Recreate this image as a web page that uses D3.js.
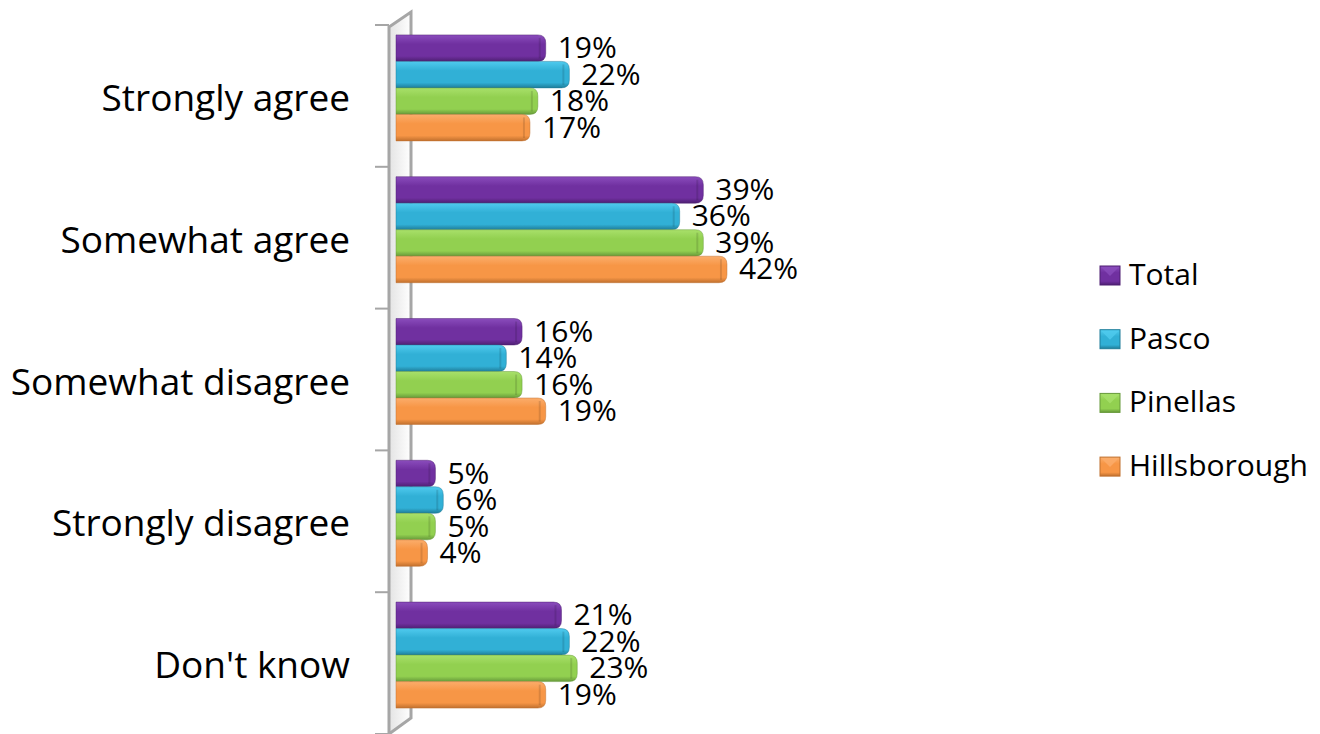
<!DOCTYPE html>
<html>
<head>
<meta charset="utf-8">
<script src="https://cdn.jsdelivr.net/npm/d3@7"></script>
<style>
  body { margin: 0; background: #fff; }
  svg { display: block; font-family: "Open Sans", sans-serif; }
</style>
</head>
<body>
<svg id="svg" width="1320" height="734"></svg>
<script>
// data
const categories = ["Strongly agree", "Somewhat agree", "Somewhat disagree", "Strongly disagree", "Don't know"];
const seriesNames = ["Total", "Pasco", "Pinellas", "Hillsborough"];
const total        = [19, 39, 16, 5, 21];
const pasco        = [22, 36, 14, 6, 22];
const pinellas     = [18, 39, 16, 5, 23];
const hillsborough = [17, 42, 19, 4, 19];
const colors = ["#7030A0", "#31B0D6", "#92D050", "#F79646"];
const darker = ["#4e1f72", "#1f7d99", "#66993a", "#c0702e"];
const lighter = ["#8a4cbc", "#4fcaee", "#a8e06a", "#fbad6b"];

const series = [total, pasco, pinellas, hillsborough];

const svg = d3.select("svg#svg");
const defs = svg.append("defs");

colors.forEach((c, i) => {
  let g = defs.append("linearGradient").attr("id", "g" + i)
    .attr("x1", 0).attr("y1", 0).attr("x2", 0).attr("y2", 1);
  g.append("stop").attr("offset", "0%").attr("stop-color", lighter[i]);
  g.append("stop").attr("offset", "35%").attr("stop-color", c);
  g.append("stop").attr("offset", "80%").attr("stop-color", c);
  g.append("stop").attr("offset", "100%").attr("stop-color", darker[i]);
});
let wg = defs.append("linearGradient").attr("id", "wall")
  .attr("x1", 0).attr("y1", 0).attr("x2", 1).attr("y2", 0);
wg.append("stop").attr("offset", "0%").attr("stop-color", "#c8c8c8");
wg.append("stop").attr("offset", "100%").attr("stop-color", "#ffffff");

const x0 = 396;
const x = d3.scaleLinear().domain([0, 45]).range([x0, x0 + 45 * 7.88]);
const y = d3.scaleBand().domain(categories).range([25, 734]);
const yi = d3.scaleBand().domain(seriesNames).range([-8, y.bandwidth() - 8]).paddingOuter(0.675);

// 3d wall
svg.append("path")
  .attr("d", "M389,27 L411,12 L411,718 L389,734 Z")
  .attr("fill", "url(#wall)").attr("opacity", 0.5);
svg.append("path")
  .attr("d", "M389,734 L389,27 L411,12 L411,718 L389,734")
  .attr("fill", "none").attr("stroke", "#a6a6a6").attr("stroke-width", 3);

// category ticks
svg.selectAll("line.tick").data(d3.range(categories.length + 1)).enter()
  .append("line").attr("class", "tick")
  .attr("x1", 375).attr("x2", 389)
  .attr("y1", i => 25 + i * y.step()).attr("y2", i => 25 + i * y.step())
  .attr("stroke", "#a6a6a6").attr("stroke-width", 2);

// category labels
svg.selectAll("text.cat").data(categories).enter()
  .append("text").attr("class", "cat")
  .attr("x", 350).attr("y", d => y(d) + y.bandwidth() / 2 + 15)
  .attr("text-anchor", "end")
  .attr("font-size", 37).attr("fill", "#000")
  .text(d => d);

function barPath(x1, y1, w, h) {
  const r = Math.min(8, w / 2);
  return `M${x1},${y1} L${x1 + w - r},${y1} Q${x1 + w},${y1} ${x1 + w},${y1 + r}` +
    ` L${x1 + w},${y1 + h - r} Q${x1 + w},${y1 + h} ${x1 + w - r},${y1 + h} L${x1},${y1 + h} Z`;
}

const rows = [];
categories.forEach((c, ci) => {
  series.forEach((s, si) => rows.push({cat: c, s: si, v: s[ci]}));
});

const bars = svg.append("g");
bars.selectAll("path.bar").data(rows).enter()
  .append("path").attr("class", "bar")
  .attr("d", d => barPath(x(0), y(d.cat) + yi(seriesNames[d.s]), x(d.v) - x(0), yi.bandwidth()))
  .attr("fill", d => "url(#g" + d.s + ")")
  .attr("stroke", d => darker[d.s]).attr("stroke-width", 0.8).attr("stroke-opacity", 0.6);

// end cap shade
bars.selectAll("path.cap").data(rows).enter()
  .append("path").attr("class", "cap")
  .attr("d", d => {
    let bx = x(d.v), by = y(d.cat) + yi(seriesNames[d.s]), h = yi.bandwidth();
    return `M${bx - 6},${by + 3} L${bx - 6},${by + h - 3}`;
  })
  .attr("stroke", "#000").attr("stroke-opacity", 0.12).attr("stroke-width", 2);

svg.selectAll("text.val").data(rows).enter()
  .append("text").attr("class", "val")
  .attr("x", d => x(d.v) + 12)
  .attr("y", d => y(d.cat) + yi(seriesNames[d.s]) + yi.bandwidth() / 2 + 10)
  .attr("font-size", 30).attr("fill", "#000")
  .text(d => d.v + "%");

// legend
const leg = svg.append("g").selectAll("g").data(seriesNames).enter()
  .append("g").attr("transform", (d, i) => `translate(1100,${275 + i * 63.7})`);
leg.append("rect").attr("x", 0).attr("y", -9).attr("width", 20).attr("height", 19)
  .attr("fill", (d, i) => "url(#g" + i + ")")
  .attr("stroke", (d, i) => darker[i]).attr("stroke-width", 1);
leg.append("path").attr("d", "M1,-8 L10,1 L19,-8 Z")
  .attr("fill", (d, i) => lighter[i]).attr("opacity", 0.8);
leg.append("text").attr("x", 29).attr("y", 10)
  .attr("font-size", 30)
  .text(d => d);
</script>
</body>
</html>
